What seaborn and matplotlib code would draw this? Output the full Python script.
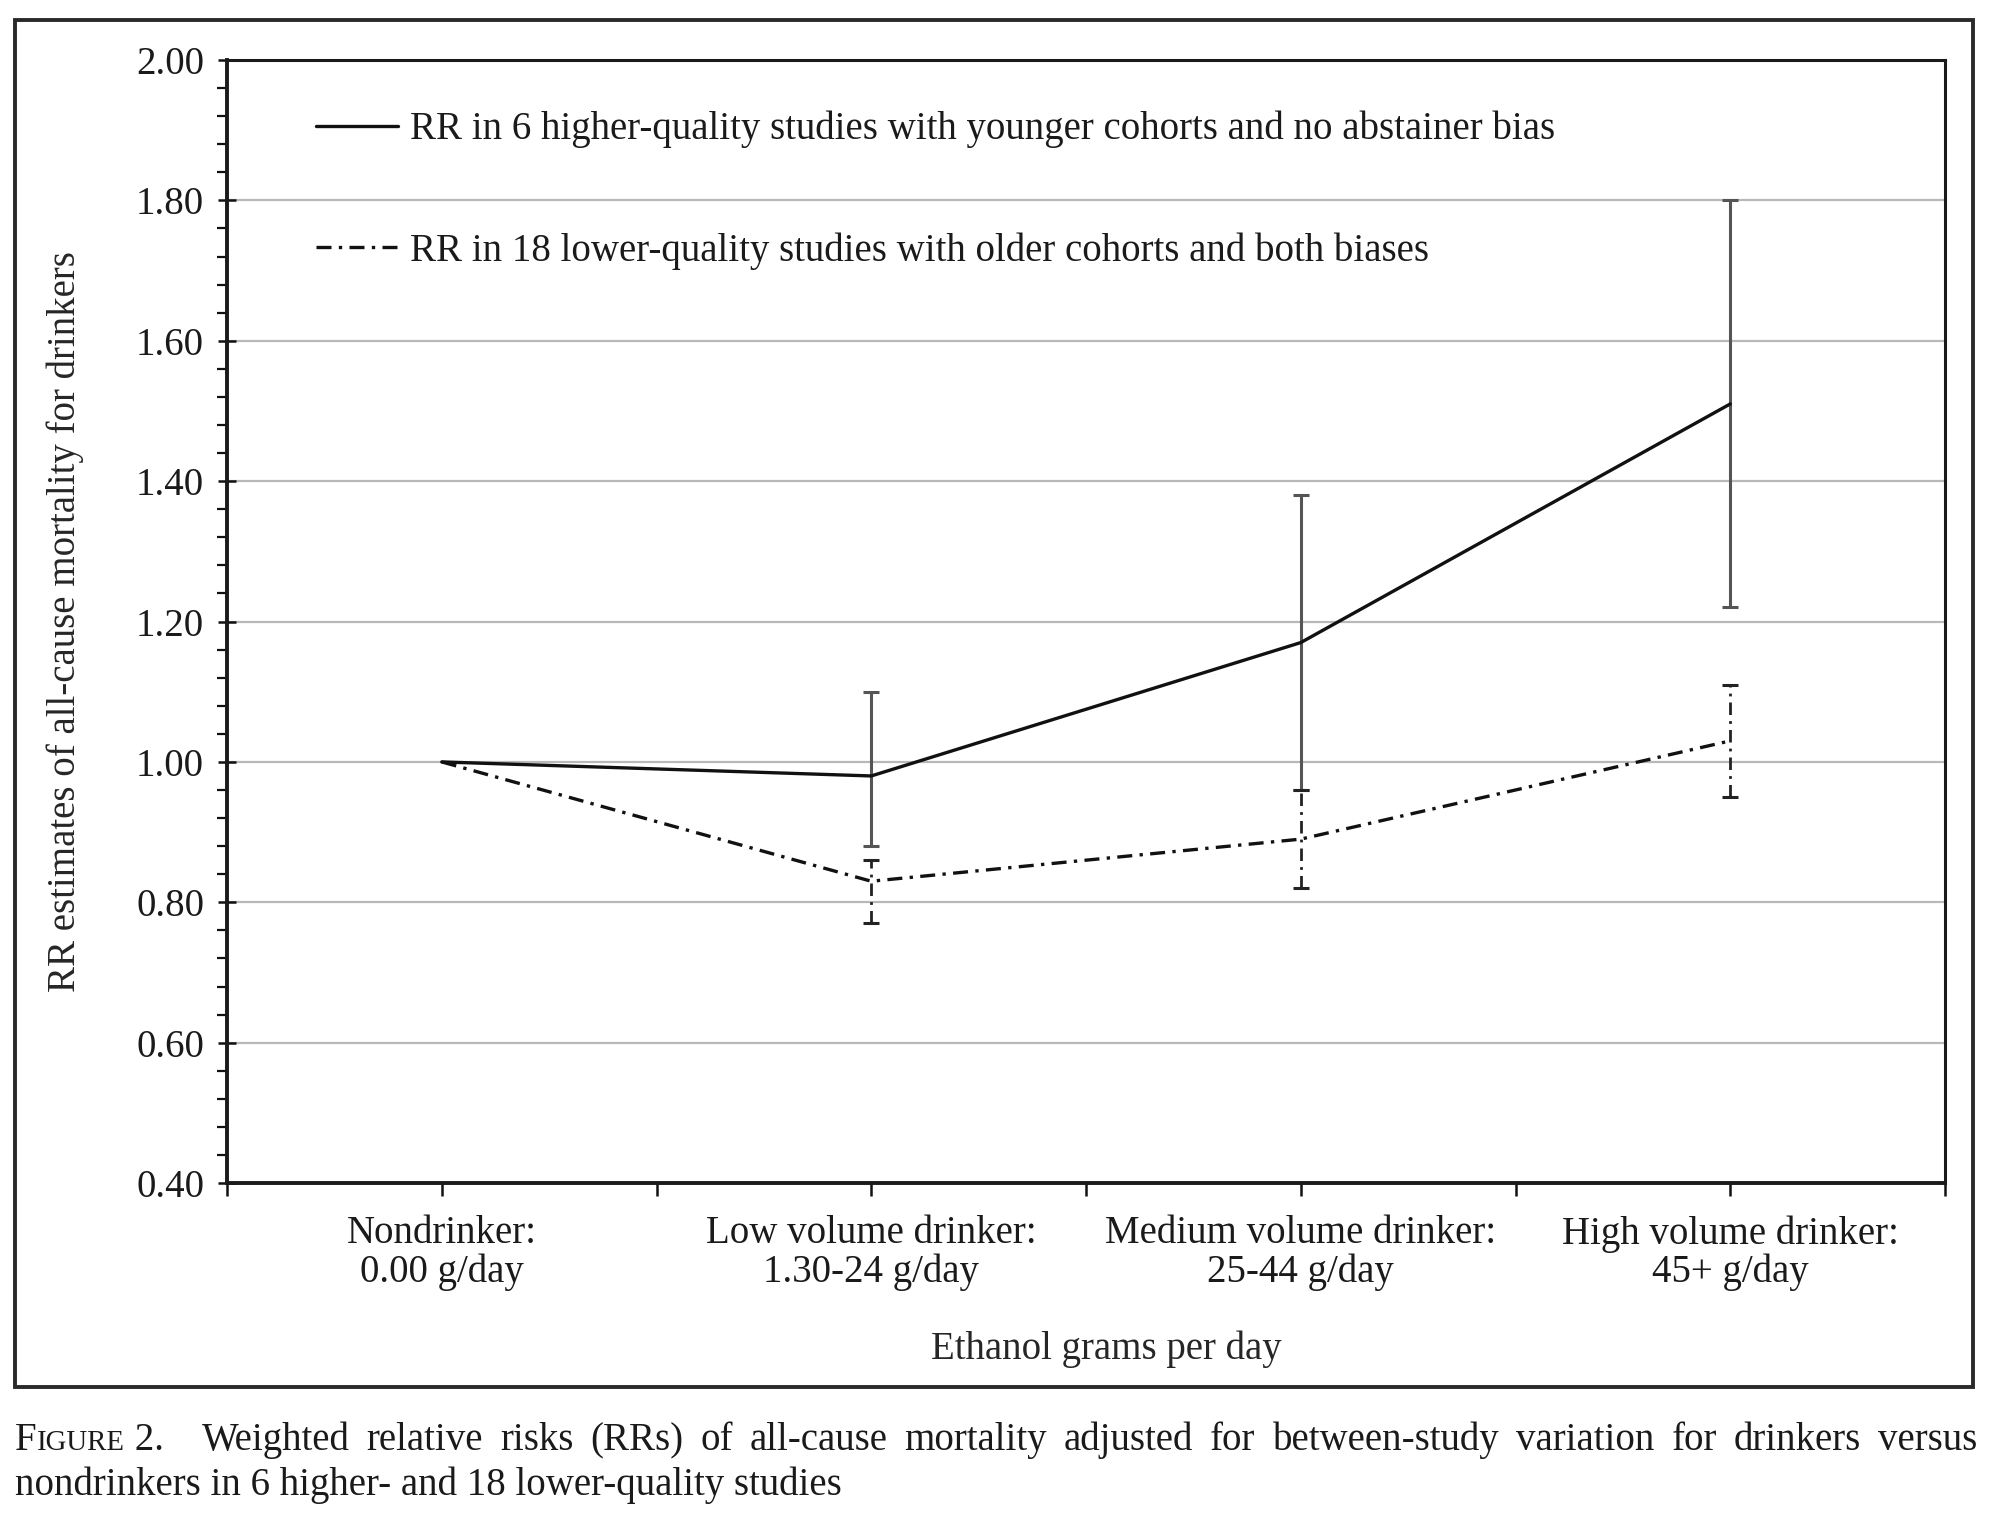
import numpy as np
import pandas as pd
import matplotlib
matplotlib.use("Agg")
import matplotlib.pyplot as plt
from matplotlib.ticker import MultipleLocator, FixedLocator, FormatStrFormatter
from matplotlib.patches import Rectangle
import seaborn as sns

# ---------------- data ----------------
categories = ["Nondrinker:\n0.00 g/day",
              "Low volume drinker:\n1.30-24 g/day",
              "Medium volume drinker:\n25-44 g/day",
              "High volume drinker:\n45+ g/day"]
hq_rr = [1.00, 0.98, 1.17, 1.51]
hq_lo = [np.nan, 0.88, 0.96, 1.22]
hq_hi = [np.nan, 1.10, 1.38, 1.80]
lq_rr = [1.00, 0.83, 0.89, 1.03]
lq_lo = [np.nan, 0.77, 0.82, 0.95]
lq_hi = [np.nan, 0.86, 0.96, 1.11]
hq_label = "RR in 6 higher-quality studies with younger cohorts and no abstainer bias"
lq_label = "RR in 18 lower-quality studies with older cohorts and both biases"
y_label = "RR estimates of all-cause mortality for drinkers"
x_label = "Ethanol grams per day"
caption1 = ["Weighted", "relative", "risks", "(RRs)", "of", "all-cause", "mortality",
            "adjusted", "for", "between-study", "variation", "for", "drinkers", "versus"]
caption2 = "nondrinkers in 6 higher- and 18 lower-quality studies"

# ---------------- style ----------------
sns.set_style("ticks")
plt.rcParams['font.family'] = ['Liberation Serif', 'DejaVu Serif']
plt.rcParams['text.color'] = '#1a1a1a'
FS = 28

fig = plt.figure(figsize=(20, 15.15), dpi=100)
ax = fig.add_axes([0.1135, 0.2191, 0.859, 0.7413])

pos = np.arange(len(categories))
df = pd.DataFrame({"pos": pos, "hq": hq_rr, "lq": lq_rr})
DASHDOT = (0, (4.5, 2.2, 1.0, 2.2))

# error bars
hq_rr_a, hq_lo_a, hq_hi_a = map(np.array, (hq_rr, hq_lo, hq_hi))
lq_rr_a, lq_lo_a, lq_hi_a = map(np.array, (lq_rr, lq_lo, lq_hi))
eb1 = ax.errorbar(pos, hq_rr_a, yerr=[hq_rr_a - hq_lo_a, hq_hi_a - hq_rr_a], fmt='none',
                  ecolor='#555555', elinewidth=2.2, capsize=5.5, capthick=2.2, zorder=3)
eb2 = ax.errorbar(pos, lq_rr_a, yerr=[lq_rr_a - lq_lo_a, lq_hi_a - lq_rr_a], fmt='none',
                  ecolor='#222222', elinewidth=2.0, capsize=5.5, capthick=2.2, zorder=3)
eb2[2][0].set_linestyle(DASHDOT)

# lines
sns.lineplot(data=df, x="pos", y="hq", ax=ax, color='#111111', lw=2.4,
             label=hq_label, zorder=4)
sns.lineplot(data=df, x="pos", y="lq", ax=ax, color='#111111', lw=2.4,
             linestyle=DASHDOT, label=lq_label, zorder=4)

# axes
ax.set_xlim(-0.5, 3.5)
ax.set_ylim(0.40, 2.00)
ax.yaxis.set_major_locator(MultipleLocator(0.2))
ax.yaxis.set_minor_locator(MultipleLocator(0.04))
ax.yaxis.set_major_formatter(FormatStrFormatter('%.2f'))
ax.xaxis.set_major_locator(FixedLocator(pos))
ax.xaxis.set_minor_locator(FixedLocator(np.arange(-0.5, 4.0, 1.0)))
ax.set_xticklabels(categories, fontsize=FS, linespacing=1.05)
for t in ax.get_yticklabels():
    t.set_fontsize(FS)
ax.tick_params(axis='y', which='major', direction='inout', length=13, width=1.8,
               color='#111111', pad=10, labelcolor='#1a1a1a')
ax.tick_params(axis='y', which='minor', direction='out', length=7, width=1.6, color='#111111')
ax.tick_params(axis='x', which='both', direction='out', length=9, width=1.8,
               color='#111111', pad=14, labelcolor='#1a1a1a')
ax.yaxis.grid(True, which='major', color='#b8b8b8', lw=1.6)
ax.xaxis.grid(False)
ax.set_axisbelow(True)
for s in ax.spines.values():
    s.set_visible(True)
    s.set_color('#1a1a1a')
    s.set_linewidth(2.2)
ax.spines['left'].set_linewidth(2.8)
ax.spines['bottom'].set_linewidth(2.8)

ax.set_ylabel(y_label, fontsize=FS)
ax.yaxis.set_label_coords(-0.083, 0.50)
ax.set_xlabel(x_label, fontsize=FS)
ax.xaxis.set_label_coords(0.512, -0.131)

leg = ax.legend(loc='center left', bbox_to_anchor=(0.043, 0.884), frameon=False,
                fontsize=FS, handlelength=2.1, handletextpad=0.3, labelspacing=2.15,
                borderaxespad=0)
for h in leg.get_lines():
    h.set_linewidth(2.4)

# outer frame
fig.patches.append(Rectangle((15 / 2000, 1 - 1387 / 1515), (1973 - 15) / 2000, (1387 - 20) / 1515,
                             transform=fig.transFigure, fill=False, ec='#2a2a2a', lw=2.8))

# caption (justified first line)
fig.canvas.draw()
r = fig.canvas.get_renderer()
W, H = 2000, 1515
y1 = 1 - 1450 / H
y2 = 1 - 1495 / H
left_px, right_px = 15, 1977

def tw(t):
    return t.get_window_extent(r).width

tF = fig.text(left_px / W, y1, "F", fontsize=FS, ha='left', va='baseline')
x = left_px + tw(tF)
tI = fig.text(x / W, y1, "IGURE", fontsize=FS * 0.74, ha='left', va='baseline')
x += tw(tI)
t2 = fig.text(x / W, y1, " 2.", fontsize=FS, ha='left', va='baseline')
x += tw(t2)
head_end = x + 38
words = [fig.text(0, y1, w_, fontsize=FS, ha='left', va='baseline') for w_ in caption1]
widths = [tw(t) for t in words]
gap = (right_px - head_end - sum(widths)) / (len(words) - 1)
xx = head_end
for t, wd in zip(words, widths):
    t.set_x(xx / W)
    xx += wd + gap
fig.text(left_px / W, y2, caption2, fontsize=FS, ha='left', va='baseline')

fig.savefig("out.png", dpi=100, facecolor='white')
